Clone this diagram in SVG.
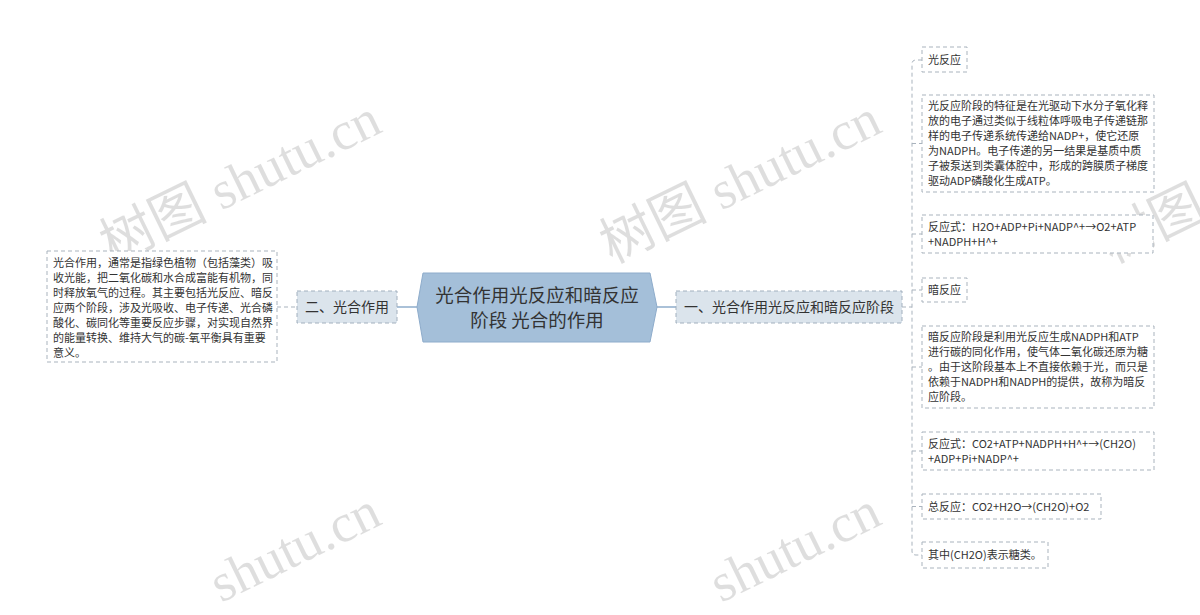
<svg xmlns="http://www.w3.org/2000/svg" width="1200" height="615" viewBox="0 0 1200 615">
<style>
.wm{font-family:"Liberation Serif","Noto Sans CJK SC",serif;font-size:54px;fill:#000;fill-opacity:0.13}
.t{font-family:"Noto Sans CJK SC",sans-serif;font-size:11px;fill:#333}
.t1{font-family:"Noto Sans CJK SC",sans-serif;font-size:14px;fill:#333}
.tc{font-family:"Noto Sans CJK SC",sans-serif;font-size:18.5px;fill:#333;text-anchor:middle}
.leaf{fill:#fff;stroke:#a9b3bd;stroke-width:1;stroke-dasharray:4 3}
.l1{fill:#dbe4ec;stroke:#a2b0be;stroke-width:1;stroke-dasharray:4 3}
.cn{fill:none;stroke:#a9b3bd;stroke-width:1;stroke-dasharray:4 3}
.cs{fill:none;stroke:#8eaccb;stroke-width:1.5}
</style>
<rect width="1200" height="615" fill="#fff"/>
<g id="watermark">
<text class="wm" transform="translate(112,264) rotate(-26)">树图 shutu.cn</text>
<text class="wm" transform="translate(612,264) rotate(-26)">树图 shutu.cn</text>
<text class="wm" transform="translate(1112,264) rotate(-26)">树图</text>
<text class="wm" transform="translate(221,603) rotate(-26)">shutu.cn</text>
<text class="wm" transform="translate(721,603) rotate(-26)">shutu.cn</text>
</g>
<g id="connectors">
<path class="cs" d="M397,307 H417"/>
<path class="cs" d="M657,307 H676"/>
<path class="cn" d="M277,307 H297"/>
<path class="cn" d="M902,307 H912"/>
<path class="cn" d="M922,60 H916 Q912,60 912,64 V551 Q912,555 916,555 H922"/>
<path class="cn" d="M912,143.5 H922 M912,234 H922 M912,290 H922 M912,367 H922 M912,451 H922 M912,506.5 H922"/>
</g>
<g id="center">
<polygon points="423,273 650,273 657,307 650,342 423,342 417,307" fill="#a4bfd9" stroke="#8eaccb" stroke-width="1"/>
<text class="tc" x="537" y="302">光合作用光反应和暗反应</text>
<text class="tc" x="537" y="327">阶段 光合的作用</text>
</g>
<g id="n-left1">
<rect class="l1" x="297" y="291" width="100" height="32"/>
<text class="t1" x="305" y="312">二、光合作用</text>
</g>
<g id="n-left-desc">
<rect class="leaf" x="47" y="251" width="230" height="111"/>
<text class="t">
<tspan x="53" y="267">光合作用，通常是指绿色植物（包括藻类）吸</tspan>
<tspan x="53" y="282">收光能，把二氧化碳和水合成富能有机物，同</tspan>
<tspan x="53" y="297">时释放氧气的过程。其主要包括光反应、暗反</tspan>
<tspan x="53" y="312">应两个阶段，涉及光吸收、电子传递、光合磷</tspan>
<tspan x="53" y="327">酸化、碳同化等重要反应步骤，对实现自然界</tspan>
<tspan x="53" y="342">的能量转换、维持大气的碳-氧平衡具有重要</tspan>
<tspan x="53" y="357">意义。</tspan>
</text>
</g>
<g id="n-right1">
<rect class="l1" x="676" y="291" width="226" height="32"/>
<text class="t1" x="684" y="312">一、光合作用光反应和暗反应阶段</text>
</g>
<g id="n-light">
<rect class="leaf" x="922" y="47" width="45" height="25"/>
<text class="t" x="928" y="64">光反应</text>
</g>
<g id="n-light-desc">
<rect class="leaf" x="922" y="95" width="232" height="97"/>
<text class="t">
<tspan x="928" y="110">光反应阶段的特征是在光驱动下水分子氧化释</tspan>
<tspan x="928" y="125">放的电子通过类似于线粒体呼吸电子传递链那</tspan>
<tspan x="928" y="140">样的电子传递系统传递给NADP+，使它还原</tspan>
<tspan x="928" y="155">为NADPH。电子传递的另一结果是基质中质</tspan>
<tspan x="928" y="170">子被泵送到类囊体腔中，形成的跨膜质子梯度</tspan>
<tspan x="928" y="185">驱动ADP磷酸化生成ATP。</tspan>
</text>
</g>
<g id="n-light-eq">
<rect class="leaf" x="922" y="215" width="231" height="38"/>
<text class="t">
<tspan x="928" y="230.5">反应式：H2O+ADP+Pi+NADP^+→O2+ATP</tspan>
<tspan x="928" y="245.5">+NADPH+H^+</tspan>
</text>
</g>
<g id="n-dark">
<rect class="leaf" x="922" y="278" width="45" height="24"/>
<text class="t" x="928" y="294">暗反应</text>
</g>
<g id="n-dark-desc">
<rect class="leaf" x="922" y="326" width="232" height="82"/>
<text class="t">
<tspan x="928" y="341">暗反应阶段是利用光反应生成NADPH和ATP</tspan>
<tspan x="928" y="356">进行碳的同化作用，使气体二氧化碳还原为糖</tspan>
<tspan x="928" y="371">。由于这阶段基本上不直接依赖于光，而只是</tspan>
<tspan x="928" y="386">依赖于NADPH和NADPH的提供，故称为暗反</tspan>
<tspan x="928" y="401">应阶段。</tspan>
</text>
</g>
<g id="n-dark-eq">
<rect class="leaf" x="922" y="432" width="232" height="38"/>
<text class="t">
<tspan x="928" y="447.5">反应式：CO2+ATP+NADPH+H^+→(CH2O)</tspan>
<tspan x="928" y="462.5">+ADP+Pi+NADP^+</tspan>
</text>
</g>
<g id="n-total">
<rect class="leaf" x="922" y="494" width="179" height="25"/>
<text class="t" x="928" y="510.5">总反应：CO2+H2O→(CH2O)+O2</text>
</g>
<g id="n-note">
<rect class="leaf" x="922" y="542" width="126" height="26"/>
<text class="t" x="928" y="559">其中(CH2O)表示糖类。</text>
</g>
</svg>
